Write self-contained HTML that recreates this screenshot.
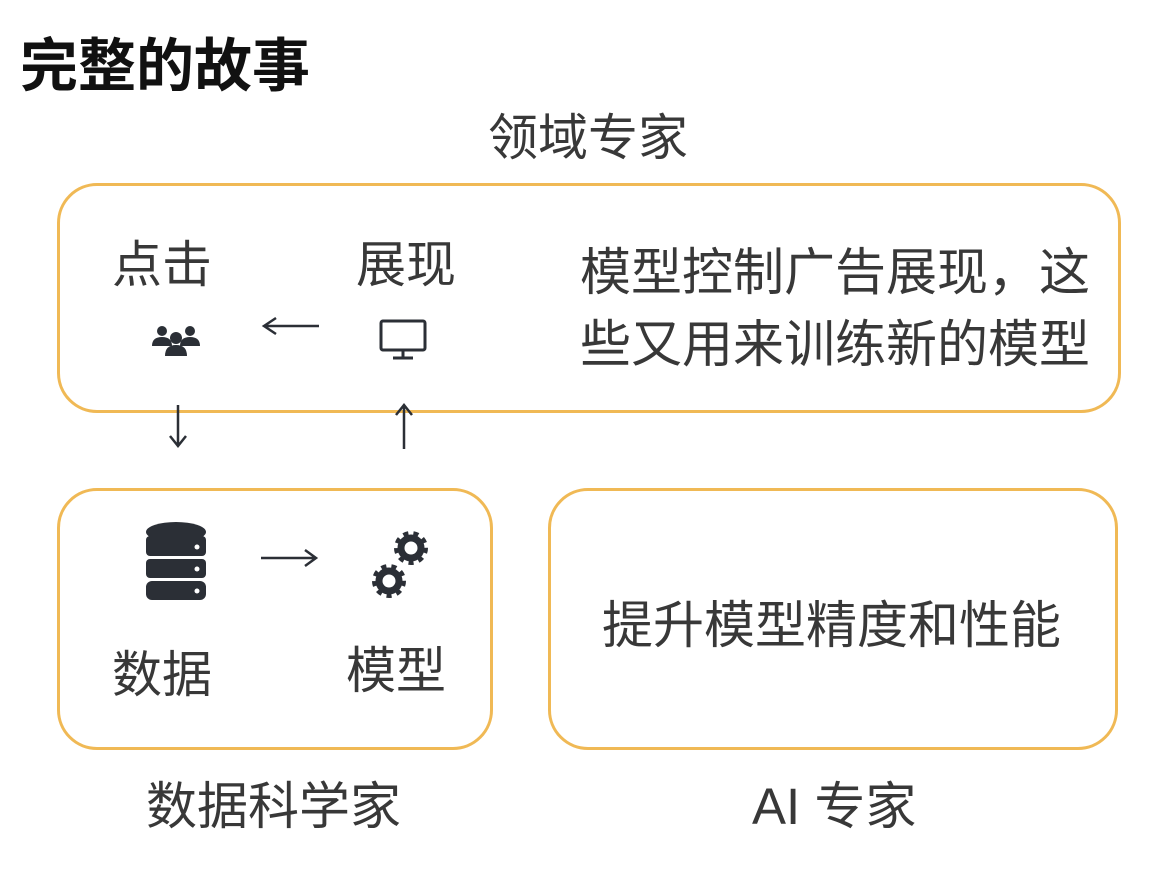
<!DOCTYPE html>
<html><head><meta charset="utf-8"><style>
body{margin:0;width:1149px;height:876px;background:#fff;position:relative;overflow:hidden;font-family:"Liberation Sans","Noto Sans CJK SC",sans-serif;color:#383838}
.t{position:absolute;white-space:nowrap;line-height:1}
.box{position:absolute;border:3px solid #f0b955;border-radius:40px;box-sizing:border-box}
</style></head><body>
<div class="t" style="left:20px;top:38px;font-size:58px;font-weight:bold;color:#111">完整的故事</div>
<div class="t" style="left:488px;top:113px;font-size:50px">领域专家</div>
<div class="box" style="left:57px;top:183px;width:1064px;height:230px"></div>
<div class="box" style="left:57px;top:488px;width:436px;height:262px"></div>
<div class="box" style="left:548px;top:488px;width:570px;height:262px"></div>
<div class="t" style="left:112px;top:240px;font-size:50px">点击</div>
<div class="t" style="left:356px;top:240px;font-size:50px">展现</div>
<div class="t" style="left:580px;top:237px;font-size:51px;line-height:72px">模型控制广告展现，这<br>些又用来训练新的模型</div>
<div class="t" style="left:112px;top:650px;font-size:50px">数据</div>
<div class="t" style="left:346px;top:646px;font-size:50px">模型</div>
<div class="t" style="left:602px;top:600px;font-size:51px">提升模型精度和性能</div>
<div class="t" style="left:146px;top:781px;font-size:51px">数据科学家</div>
<div class="t" style="left:752px;top:781px;font-size:51px">AI 专家</div>
<svg width="1149" height="876" style="position:absolute;left:0;top:0" fill="none" stroke="#2b2f36" stroke-width="2.5">
<path d="M319 326H264M276 318L264 326L276 334"/>
<path d="M178 405V446M170 436L178 446L186 436"/>
<path d="M404 449V405M396 415L404 405L412 415"/>
<path d="M261 558H316M305 550L316 558L305 566"/>
<g fill="#2b2f36" stroke="none">
<circle cx="162" cy="331" r="5"/><circle cx="190" cy="331" r="5"/>
<path d="M152 346q0-9 10-9t10 9z"/><path d="M180 346q0-9 10-9t10 9z"/>
<circle cx="176" cy="338" r="6"/><path d="M165 356q0-11 11-11t11 11z"/>
</g>
<rect x="381" y="321" width="44" height="29" rx="2" stroke-width="3"/>
<path d="M403 351V357M393 358H413" stroke-width="3"/>
<g fill="#2b2f36" stroke="none">
<ellipse cx="176" cy="532" rx="30" ry="10"/>
<rect x="146" y="536" width="60" height="20" rx="4"/>
<rect x="146" y="559" width="60" height="19" rx="4"/>
<rect x="146" y="581" width="60" height="19" rx="6"/>
</g>
<g fill="#fff" stroke="none"><circle cx="197" cy="547" r="2.5"/><circle cx="197" cy="569" r="2.5"/><circle cx="197" cy="591" r="2.5"/></g>
<g stroke="#2b2f36">
<circle cx="411" cy="548" r="13" stroke-width="8" stroke-dasharray="4.5 4.5"/>
<circle cx="411" cy="548" r="10" stroke-width="7"/>
<circle cx="389" cy="581" r="13" stroke-width="8" stroke-dasharray="4.5 4.5"/>
<circle cx="389" cy="581" r="10" stroke-width="7"/>
</g>
</svg>
</body></html>
